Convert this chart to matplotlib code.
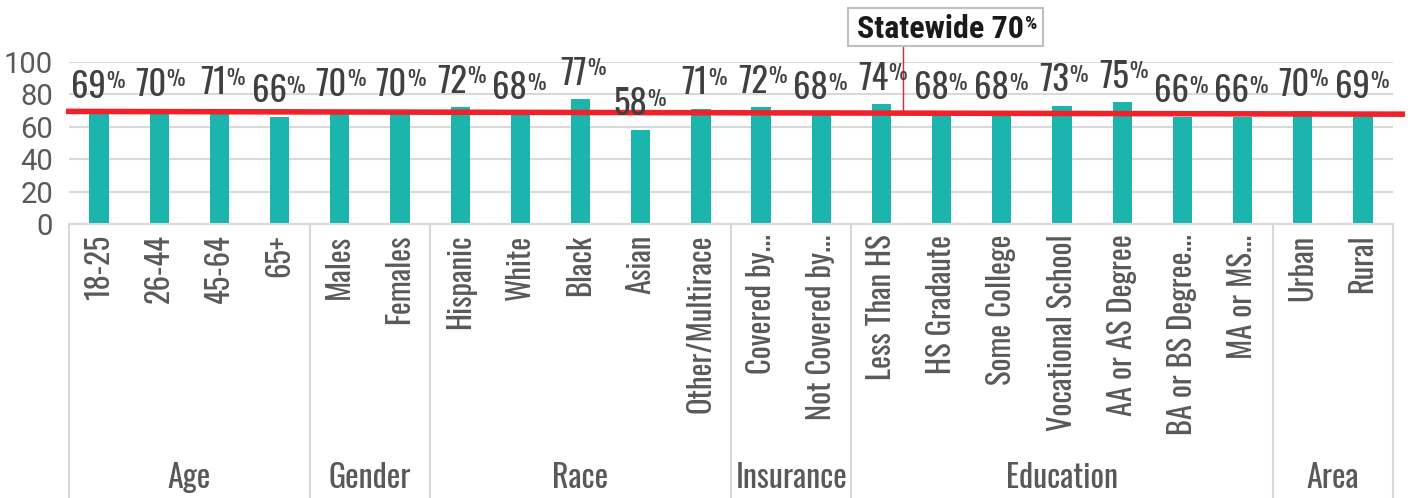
import numpy as np
import matplotlib
matplotlib.use("Agg")
import matplotlib.pyplot as plt
from matplotlib import font_manager
from matplotlib.patches import Rectangle
from matplotlib.text import Annotation
from matplotlib.transforms import blended_transform_factory

# data
groups = ["Age", "Gender", "Race", "Insurance", "Education", "Area"]
group_sizes = [4, 2, 5, 2, 7, 2]
categories = ["18-25", "26-44", "45-64", "65+",
              "Males", "Females",
              "Hispanic", "White", "Black", "Asian", "Other/Multirace",
              "Covered by...", "Not Covered by...",
              "Less Than HS", "HS Gradaute", "Some College", "Vocational School",
              "AA or AS Degree", "BA or BS Degree...", "MA or MS...",
              "Urban", "Rural"]
values = [69, 70, 71, 66, 70, 70, 72, 68, 77, 58, 71, 72, 68, 74, 68, 68, 73, 75, 66, 66, 70, 69]
statewide = 70
statewide_line = [69.5, 67.8]   # red reference line, left and right ends (slightly tilted in source)
yticks = [0, 20, 40, 60, 80, 100]

# pick a narrow font if there is one (and a bold face for the callout)
narrow_cands = ["Oswald", "Roboto Condensed", "Liberation Sans Narrow", "Open Sans Condensed", "Noto Sans Condensed"]
fonts = font_manager.fontManager.ttflist
installed = {f.name for f in fonts}
narrow = "DejaVu Sans"
for cand in narrow_cands:
    if cand in installed:
        narrow = cand
        break
narrow_bold = narrow
for cand in narrow_cands:
    if any(f.name == cand and f.weight in ("bold", 700, "heavy", 800, 900) for f in fonts):
        narrow_bold = cand
        break
plain = "Roboto" if "Roboto" in installed else "DejaVu Sans"

teal = "#1bb5ad"
red = "#ee2228"
grid_c = "#d9d9d9"
label_c = "#404040"
tick_c = "#595959"

fig = plt.figure(figsize=(14.08, 4.98), dpi=100)
ax = fig.add_axes([69 / 1408, 274 / 498, (1393 - 69) / 1408, 162 / 498])

x = np.arange(len(values))
ax.bar(x, values, width=0.32, color=teal, zorder=2)
ax.set_xlim(-0.5, len(values) - 0.5)
ax.set_ylim(0, 100)
ax.set_yticks(yticks)
ax.set_yticklabels([str(t) for t in yticks], fontfamily=plain, fontsize=21, color=tick_c)
ax.tick_params(axis="y", length=0, pad=11.5)
ax.set_xticks([])
ax.grid(axis="y", color=grid_c, linewidth=1.5, zorder=0)
for s in ["top", "right", "left"]:
    ax.spines[s].set_visible(False)
ax.spines["bottom"].set_color(grid_c)
ax.spines["bottom"].set_linewidth(1.5)

# red statewide line, runs a bit past the plot area
ax.plot([-0.55, len(values) - 0.3], statewide_line, color=red, lw=4, zorder=3, clip_on=False,
        solid_capstyle="butt")

# value labels, small percent sign stuck to the number
for xi, v in zip(x, values):
    num = ax.annotate(str(v), (xi, v), xytext=(5, 10.5), textcoords="offset points",
                      ha="right", va="baseline", fontfamily=narrow, fontsize=25, color=label_c, zorder=4)
    ax.annotate("%", xy=(1, 1), xycoords=num, xytext=(0, -1), textcoords="offset points",
                ha="left", va="top", fontfamily=narrow, fontsize=15, color=label_c, zorder=4)

# category labels and group axis
trans = blended_transform_factory(ax.transData, ax.transAxes)
for xi, c in zip(x, categories):
    ax.text(xi, -0.065, c, transform=trans, rotation=90, ha="center", va="top",
            fontfamily=narrow, fontsize=22, color=tick_c)

bounds = np.concatenate([[0], np.cumsum(group_sizes)])
for b in bounds:
    ax.plot([b - 0.5, b - 0.5], [0, -1.75], transform=trans, color=grid_c, lw=1.5, clip_on=False)
for g, a, b in zip(groups, bounds[:-1], bounds[1:]):
    ax.text((a + b - 1) / 2, -1.57, g, transform=trans, ha="center", va="center",
            fontfamily=narrow, fontsize=23, color=tick_c)

# statewide callout
ax.plot([13.35, 13.35], [np.interp(13.35, [-0.55, len(values) - 0.3], statewide_line), 109.5],
        color=red, lw=1, zorder=3, clip_on=False)
box = Rectangle((848 / 1408, (498 - 46) / 498), 195 / 1408, 38 / 498,
                transform=fig.transFigure, facecolor="white", edgecolor="#bfbfbf", lw=1.5, zorder=2)
fig.add_artist(box)
sw = fig.text(857 / 1408, (498 - 38) / 498, "Statewide %d" % statewide, ha="left", va="baseline",
              fontfamily=narrow_bold, fontweight="bold", fontsize=23, color="#1a1a1a", zorder=3)
pct = Annotation("%", xy=(1, 1), xycoords=sw, xytext=(0, -1), textcoords="offset points",
                 ha="left", va="top", fontfamily=narrow_bold, fontweight="bold", fontsize=14,
                 color="#1a1a1a", zorder=3)
fig.add_artist(pct)

fig.savefig("out.png", dpi=100)
